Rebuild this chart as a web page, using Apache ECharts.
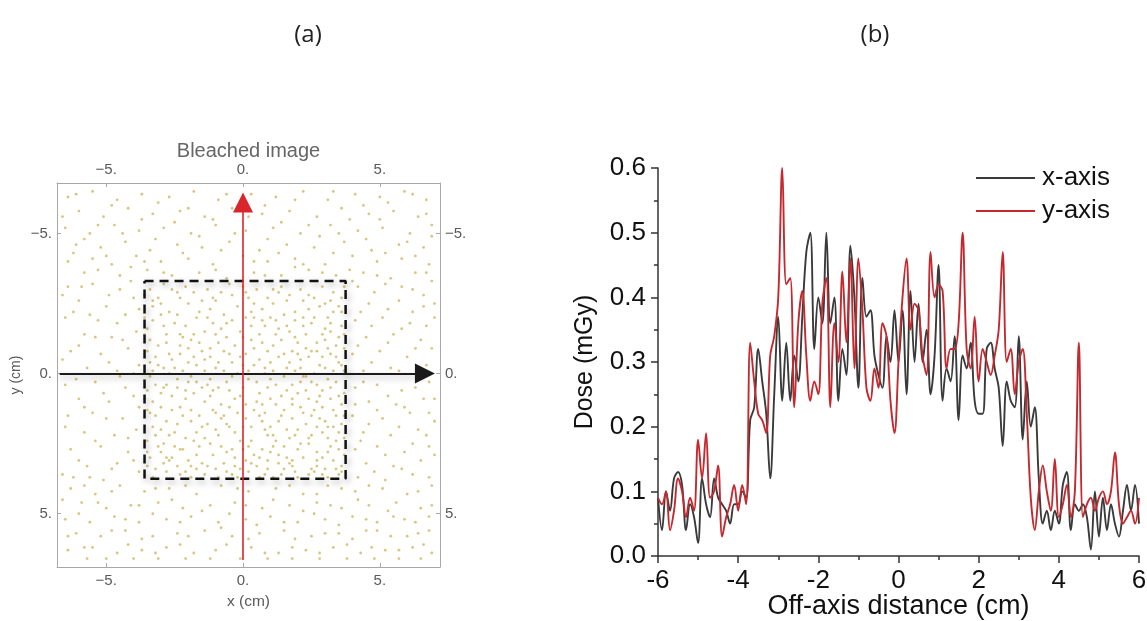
<!DOCTYPE html>
<html>
<head>
<meta charset="utf-8">
<script src="https://cdn.jsdelivr.net/npm/echarts@6/dist/echarts.min.js"></script>
<style>
html,body{margin:0;padding:0;background:#fff;}
#chart{width:1147px;height:621px;}
</style>
</head>
<body>
<div id="chart"></div>
<script>
// ---------- Panel (a): bleached image dots, positions in mm ----------
const dotsInsideMm = [
-34,-30,-21,-31,-8,-29,5,-30,17,-28,29,-31,36,-27,-30,-25,-15,-26,-2,-24,11,-25,24,-23,33,-22,-33,-19,-24,-21,-11,-18,1,-20,8,-17,19,-19,30,-16,
-28,-14,-19,-12,-6,-13,14,-12,27,-11,35,-13,-35,-8,-23,-7,-12,-9,-1,-6,9,-8,21,-5,32,-7,-29,-2,-17,-3,-7,-1,4,-3,16,-2,26,0,37,-1,
-32,4,-20,3,-9,5,2,2,12,4,23,6,34,3,-26,8,-14,10,-3,9,7,11,18,9,29,12,-35,13,-22,15,-10,14,1,16,13,17,25,15,36,18,
-30,20,-17,21,-5,19,9,22,20,20,31,23,-25,26,-12,25,0,27,15,26,27,28,-34,30,-20,31,-7,32,6,30,18,33,33,31,-28,35,-14,36,2,35,11,37,24,36,36,35,
-31,-27,-18,-29,-4,-28,9,-27,21,-30,33,-29,-27,-22,-12,-23,3,-22,15,-21,28,-24,-35,-16,-21,-17,-8,-16,6,-14,17,-15,25,-18,36,-17,
-31,-10,-16,-11,-3,-10,11,-10,23,-9,30,-12,-26,-5,-9,-4,1,-7,13,-6,28,-3,35,-4,-34,1,-22,-1,-12,2,8,0,19,-1,31,2,
-24,5,-5,6,6,7,16,6,27,4,37,7,-33,10,-18,7,-8,11,4,13,21,12,32,9,-28,17,-13,18,-2,14,10,19,23,18,34,15,
-35,24,-21,23,-9,22,3,24,17,23,29,21,-30,28,-17,29,-3,30,10,28,22,30,35,27,-24,33,-10,34,5,33,15,34,30,34,-33,37,-19,37,-2,37,20,37,
-29,-32,-13,-30,0,-31,13,-29,26,-27,37,-31,-33,-24,-20,-25,-7,-21,7,-23,19,-22,31,-20,-25,-18,-14,-15,3,-17,12,-19,23,-14,34,-10,
-34,-12,-20,-9,-9,-11,7,-11,18,-8,29,-6,-27,-7,-14,-5,-5,-7,10,-4,21,-2,33,-1,-31,-3,-19,1,-2,0,5,3,15,1,25,3,
-35,6,-28,4,-15,5,-1,8,10,9,20,7,36,11,-23,12,-11,13,6,15,15,13,27,10,-32,15,-19,17,-6,18,3,19,18,16,31,19,
-27,22,-14,23,-1,24,12,24,25,22,37,23,-35,28,-22,27,-8,26,7,27,20,27,32,26,-29,32,-15,32,1,31,13,32,27,33,-21,35,-6,35,8,36,19,35,31,37,
-36,-28,-23,-27,-10,-26,2,-27,16,-26,30,-25,-30,-21,-17,-20,-4,-19,10,-20,22,-20,36,-22,-23,-14,-10,-14,0,-13,19,-13,32,-15,
-32,-6,-18,-6,-7,-8,4,-9,15,-7,25,-8,37,-9,-25,-2,-14,-1,0,-3,11,-1,22,1,30,-2,-30,7,-17,3,-6,3,9,5,18,4,29,6,
-21,9,-12,8,1,11,12,11,24,9,35,8,-33,19,-24,18,-8,16,7,17,16,20,28,16,-29,25,-16,26,-4,27,11,26,24,25,34,24,
-26,30,-11,29,4,29,16,30,29,30,-32,34,-17,34,-3,33,9,34,26,35,36,33,
-33,-26,-26,-30,-16,-22,-5,-32,4,-25,14,-31,22,-26,35,-24,-29,-17,-22,-13,-13,-20,-1,-15,7,-19,16,-17,26,-20,32,-18,
-36,-20,-20,-4,-10,-2,3,-12,12,-14,20,-11,31,-9,37,-14,-34,-4,-27,0,-15,-8,-4,-4,6,-5,17,-4,24,-6,36,-3,
-30,12,-24,2,-11,6,0,5,10,2,21,3,28,8,33,13,-36,9,-19,13,-7,15,5,10,14,15,22,14,30,17,37,15,
-32,22,-25,21,-15,19,-3,21,8,20,19,22,27,19,35,21,-31,26,-18,24,-6,28,2,26,13,29,21,25,31,28,37,29,
-27,31,-13,33,-1,34,9,31,18,31,25,34,35,36,-35,33,-23,36,-9,37,6,37,14,36,29,36,
-24,-29,-11,-27,1,-29,11,-30,24,-28,32,-26,-36,-14,-28,-11,-18,-14,-6,-18,4,-20,13,-16,22,-17,29,-14,
-33,-1,-23,-10,-12,-6,2,-1,8,-2,20,-7,27,-8,34,-6,-29,5,-21,6,-13,4,-4,1,14,8,23,1,32,5,
-34,14,-26,13,-16,15,-5,12,8,14,18,11,26,13,-23,27,-10,20,0,19,11,22,24,23,33,19,
-28,30,-19,33,-4,36,3,32,17,32,27,31,34,34
];
const dotsOutsideMm = [
-64,-63,-55,-65,-46,-62,-37,-64,-27,-63,-18,-65,-9,-62,3,-64,12,-63,22,-65,31,-62,41,-64,50,-63,59,-65,67,-62,
-60,-58,-51,-56,-42,-59,-33,-57,-23,-58,-14,-56,-4,-59,7,-57,17,-58,27,-56,36,-59,46,-57,55,-58,64,-56,
-65,-52,-56,-50,-47,-53,-38,-51,-29,-52,-19,-50,-10,-53,1,-51,11,-52,21,-50,32,-53,42,-51,51,-52,61,-50,69,-53,
-61,-46,-52,-45,-43,-47,-34,-44,-24,-46,-15,-45,-5,-47,6,-44,16,-46,26,-45,37,-47,47,-44,57,-46,66,-45,
-64,-40,-55,-41,-48,-39,-39,-42,-30,-40,-20,-41,-11,-39,0,-42,9,-40,19,-41,30,-39,40,-42,49,-40,58,-41,68,-39,
-58,-36,-45,-35,-35,-37,-26,-35,-16,-36,-6,-34,4,-36,14,-35,24,-37,34,-35,44,-36,54,-34,63,-36,
-63,41,-54,43,-45,40,-36,42,-27,41,-17,43,-8,40,2,42,12,41,22,43,31,40,41,42,51,41,60,43,69,40,
-59,46,-50,48,-41,47,-31,46,-22,48,-12,47,-3,46,7,48,17,47,27,46,36,48,46,47,56,46,65,48,
-65,52,-56,53,-47,51,-38,53,-28,52,-19,51,-9,53,1,52,10,51,20,53,30,52,40,51,49,53,59,52,68,51,
-61,57,-52,58,-43,56,-33,58,-24,57,-14,56,-4,58,6,57,15,56,25,58,35,57,45,56,54,58,64,57,
-64,63,-55,62,-46,64,-37,63,-28,62,-18,64,-10,63,3,62,13,64,23,63,33,62,43,64,52,63,62,62,69,64,
-57,66,-40,66,-21,66,-1,66,18,66,38,66,57,66,
-64,-31,-55,-32,-45,-30,-60,-26,-50,-24,-40,-27,-65,-20,-53,-19,-43,-21,-58,-14,-48,-13,-39,-15,-63,-8,-52,-7,-42,-9,
-57,-2,-46,-1,-38,-3,-65,4,-54,3,-43,5,-60,9,-49,10,-40,8,-64,15,-55,14,-44,16,-58,21,-47,22,-39,20,-63,27,-52,26,-42,28,
-57,33,-46,32,-38,35,-62,37,-51,38,
42,-31,52,-32,62,-30,69,-33,46,-25,57,-26,66,-24,41,-19,51,-20,61,-18,70,-20,45,-13,55,-14,65,-12,40,-7,50,-8,60,-6,69,-9,
44,-1,54,-2,64,0,41,5,49,4,58,6,68,3,46,10,56,11,66,9,40,15,51,16,61,14,70,17,44,21,54,22,64,20,41,27,49,26,59,28,68,26,
45,32,55,33,65,31,42,37,52,38,62,36,
-61,-64,-48,-60,-31,-61,-20,-59,-6,-64,8,-60,19,-62,33,-65,44,-60,53,-61,62,-64,-66,-56,-53,-53,-37,-55,-25,-54,-11,-55,
2,-56,14,-54,24,-53,39,-55,50,-55,67,-57,-58,-48,-44,-50,-32,-48,-16,-49,-3,-50,9,-48,28,-49,35,-50,45,-48,60,-47,69,-49,
-62,-43,-50,-42,-36,-40,-22,-43,-8,-44,4,-40,13,-43,22,-39,33,-43,52,-43,63,-42,-53,-37,-41,-38,-29,-36,-10,-37,8,-35,
19,-38,29,-36,39,-37,49,-35,67,-36,
-58,40,-48,42,-32,41,-21,40,-2,41,17,40,27,43,36,41,46,40,64,42,-66,45,-53,46,-38,47,-26,45,-15,49,1,47,11,45,22,49,
32,47,42,45,53,49,69,47,-60,50,-43,52,-33,50,-23,53,-5,50,5,54,15,53,26,50,35,54,45,52,55,51,63,53,-64,58,-48,56,
-37,59,-20,58,-8,55,2,59,19,59,30,57,40,59,49,56,60,58,68,56,-58,62,-42,61,-32,64,-23,61,-6,61,8,64,18,62,28,64,
38,61,47,62,57,63,66,61,-50,66,-31,66,-12,66,9,66,28,66,48,66,65,66,
-66,-28,-59,-31,-49,-28,-41,-33,-62,-22,-56,-21,-46,-18,-38,-23,-60,-10,-54,-13,-44,-12,-66,-5,-49,-4,-40,0,-61,2,
-51,7,-45,1,-38,12,-58,12,-50,16,-65,19,-42,23,-54,24,-60,31,-48,34,-40,31,-66,36,-56,37,
40,-33,48,-29,58,-31,66,-28,43,-22,53,-23,62,-22,70,-25,47,-17,58,-16,67,-17,42,-10,53,-11,63,-9,47,-4,57,-1,67,-3,
44,3,53,8,63,5,70,9,41,11,49,13,59,12,68,14,46,18,57,19,67,22,43,24,52,29,62,25,70,29,48,35,58,34,68,37
];
// dashed field outline (cm)
const fieldBoxX = [-3.6, 3.75, 3.75, -3.6, -3.6];
const fieldBoxY = [-3.3, -3.3, 3.75, 3.75, -3.3];
// profile arrows (cm): start and end
const xProfileArrow = [[-6.7, 0], [6.65, 0]];
const yProfileArrow = [[0, 6.65], [0, -6.1]];
const panelATicks = [-5, 0, 5];

// ---------- Panel (b): dose profiles ----------
const offAxis = Array.from({length: 121}, (_, i) => +(-6 + i * 0.1).toFixed(1));
const doseX = [
0.09,0.04,0.10,0.07,0.12,0.13,0.11,0.04,0.08,0.06,
0.02,0.12,0.08,0.06,0.12,0.09,0.08,0.07,0.05,0.08,
0.08,0.10,0.09,0.21,0.23,0.32,0.27,0.22,0.12,0.25,
0.37,0.24,0.33,0.24,0.31,0.27,0.37,0.47,0.50,0.32,
0.40,0.36,0.50,0.36,0.40,0.24,0.32,0.28,0.48,0.40,
0.26,0.43,0.37,0.38,0.31,0.28,0.26,0.34,0.30,0.38,
0.30,0.38,0.25,0.41,0.30,0.39,0.30,0.35,0.25,0.31,
0.45,0.24,0.29,0.27,0.34,0.21,0.31,0.29,0.33,0.24,
0.22,0.22,0.32,0.33,0.29,0.26,0.17,0.27,0.24,0.23,
0.34,0.18,0.27,0.20,0.23,0.12,0.05,0.07,0.04,0.07,
0.05,0.11,0.13,0.04,0.08,0.07,0.08,0.06,0.01,0.10,
0.03,0.09,0.04,0.08,0.05,0.03,0.07,0.11,0.07,0.11,
0.05
];
const doseY = [
0.09,0.08,0.10,0.04,0.07,0.12,0.10,0.06,0.09,0.07,
0.18,0.12,0.19,0.09,0.10,0.14,0.03,0.06,0.08,0.11,
0.07,0.11,0.08,0.33,0.27,0.22,0.21,0.19,0.31,0.34,
0.40,0.60,0.42,0.43,0.23,0.36,0.41,0.31,0.24,0.27,
0.25,0.39,0.43,0.23,0.36,0.30,0.44,0.33,0.46,0.29,
0.46,0.38,0.26,0.24,0.29,0.26,0.36,0.34,0.24,0.19,
0.30,0.40,0.46,0.35,0.39,0.38,0.31,0.28,0.47,0.40,
0.42,0.41,0.29,0.32,0.32,0.36,0.50,0.32,0.29,0.37,
0.27,0.32,0.30,0.28,0.31,0.35,0.47,0.30,0.32,0.25,
0.30,0.32,0.22,0.09,0.04,0.10,0.14,0.10,0.07,0.15,
0.06,0.08,0.11,0.06,0.10,0.33,0.06,0.08,0.09,0.07,
0.09,0.10,0.08,0.10,0.16,0.08,0.05,0.06,0.07,0.05,
0.09
];

function mmPairs(flat) {
  const out = [];
  for (let i = 0; i < flat.length; i += 2) out.push([flat[i] / 10, flat[i + 1] / 10]);
  return out;
}
const mmaLabel = v => (v < 0 ? '\u2212' : '') + Math.abs(v) + '.';
const grayTxt = '#5a5a5a';
const frame = '#a8a8a8';

const chart = echarts.init(document.getElementById('chart'), null, {renderer: 'canvas'});

const aX = (pos, extra) => Object.assign({
  type: 'value', gridIndex: 0, position: pos, min: -6.8, max: 7.2,
  axisLine: {show: true, onZero: false, lineStyle: {color: frame, width: 1}},
  axisTick: {show: true, inside: true, length: 4, customValues: panelATicks, lineStyle: {color: frame}},
  axisLabel: {customValues: panelATicks, formatter: mmaLabel, color: grayTxt, fontSize: 15, fontFamily: 'Liberation Sans', margin: 6},
  splitLine: {show: false}
}, extra);
const aY = (pos, extra) => Object.assign({
  type: 'value', gridIndex: 0, position: pos, min: -6.8, max: 6.9, inverse: true,
  axisLine: {show: true, onZero: false, lineStyle: {color: frame, width: 1}},
  axisTick: {show: true, inside: true, length: 4, customValues: panelATicks, lineStyle: {color: frame}},
  axisLabel: {customValues: panelATicks, formatter: mmaLabel, color: grayTxt, fontSize: 15, fontFamily: 'Liberation Sans', margin: 5},
  splitLine: {show: false}
}, extra);

const option = {
  animation: false,
  backgroundColor: '#ffffff',
  title: [
    {text: '(a)', left: 303, top: 30, textAlign: 'center', textVerticalAlign: 'middle',
     textStyle: {fontSize: 24, fontWeight: 'normal', color: '#222', fontFamily: 'Open Sans'}},
    {text: '(b)', left: 870, top: 30, textAlign: 'center', textVerticalAlign: 'middle',
     textStyle: {fontSize: 24, fontWeight: 'normal', color: '#222', fontFamily: 'Open Sans'}}
  ],
  legend: {
    data: ['x-axis', 'y-axis'], orient: 'vertical', left: 971, top: 160,
    icon: 'rect', itemWidth: 59, itemHeight: 2, itemGap: 7,
    textStyle: {fontSize: 26, color: '#111', fontFamily: 'Liberation Sans', padding: [0, 0, 0, 2]}
  },
  grid: [
    {left: 57, top: 183, width: 383, height: 384, outerBoundsMode: 'none', containLabel: false},
    {left: 658, top: 168, width: 481, height: 388, outerBoundsMode: 'none', containLabel: false}
  ],
  xAxis: [
    aX('bottom', {name: 'x (cm)', nameLocation: 'middle', nameGap: 27, nameMoveOverlap: false,
      nameTextStyle: {color: grayTxt, fontSize: 15.5, fontFamily: 'Liberation Sans'}}),
    aX('top', {name: 'Bleached image', nameLocation: 'middle', nameGap: 22, nameMoveOverlap: false,
      nameTextStyle: {color: '#666', fontSize: 20, fontFamily: 'Liberation Sans'}}),
    {
      type: 'value', gridIndex: 1, min: -6, max: 6, interval: 2,
      name: 'Off-axis distance (cm)', nameLocation: 'middle', nameGap: 37, nameMoveOverlap: false,
      nameTextStyle: {color: '#111', fontSize: 27, fontFamily: 'Liberation Sans'},
      axisLine: {show: true, onZero: false, lineStyle: {color: '#333', width: 1.5}},
      axisTick: {show: true, length: 7, lineStyle: {color: '#333', width: 1.5}},
      minorTick: {show: true, splitNumber: 2, length: 4, lineStyle: {color: '#333', width: 1.5}},
      axisLabel: {color: '#111', fontSize: 26, fontFamily: 'Liberation Sans', margin: 12},
      splitLine: {show: false}
    }
  ],
  yAxis: [
    aY('left', {name: 'y (cm)', nameLocation: 'middle', nameGap: 34, nameRotate: 90,
      nameTextStyle: {color: grayTxt, fontSize: 14, fontFamily: 'Liberation Sans'}}),
    aY('right', {}),
    {
      type: 'value', gridIndex: 1, min: 0, max: 0.6, interval: 0.1,
      name: 'Dose (mGy)', nameLocation: 'middle', nameGap: 60, nameRotate: 90,
      nameTextStyle: {color: '#111', fontSize: 25, fontFamily: 'Liberation Sans'},
      axisLine: {show: true, onZero: false, lineStyle: {color: '#333', width: 1.5}},
      axisTick: {show: true, length: 7, lineStyle: {color: '#333', width: 1.5}},
      minorTick: {show: true, splitNumber: 2, length: 4, lineStyle: {color: '#333', width: 1.5}},
      axisLabel: {color: '#111', fontSize: 26, fontFamily: 'Liberation Sans', margin: 12,
        formatter: v => v.toFixed(1)},
      splitLine: {show: false}
    }
  ],
  series: [
    {
      type: 'scatter', xAxisIndex: 0, yAxisIndex: 0, silent: true,
      data: mmPairs(dotsOutsideMm).concat(mmPairs(dotsInsideMm)),
      symbolSize: 2.8, itemStyle: {color: '#d3bf72', opacity: 0.9}
    },
    {
      type: 'line', xAxisIndex: 0, yAxisIndex: 0, silent: true,
      data: fieldBoxX.map((x, i) => [x, fieldBoxY[i]]),
      symbol: 'none', z: 4,
      lineStyle: {color: '#111', width: 2.5, type: [9, 6],
        shadowColor: 'rgba(0,0,0,0.35)', shadowBlur: 6, shadowOffsetX: 2, shadowOffsetY: 3}
    },
    {
      type: 'lines', coordinateSystem: 'cartesian2d', xAxisIndex: 0, yAxisIndex: 0, silent: true, z: 5,
      symbol: ['none', 'triangle'], symbolSize: [20, 20],
      data: [{coords: xProfileArrow}],
      lineStyle: {color: '#1a1a1a', width: 2, opacity: 1,
        shadowColor: 'rgba(0,0,0,0.3)', shadowBlur: 6, shadowOffsetY: 3}
    },
    {
      type: 'lines', coordinateSystem: 'cartesian2d', xAxisIndex: 0, yAxisIndex: 0, silent: true, z: 6,
      symbol: ['none', 'triangle'], symbolSize: [18, 20],
      data: [{coords: yProfileArrow}],
      lineStyle: {color: '#d9262b', width: 1.6, opacity: 1}
    },
    {
      name: 'x-axis', type: 'line', xAxisIndex: 2, yAxisIndex: 2,
      data: offAxis.map((x, i) => [x, doseX[i]]),
      symbol: 'none', smooth: 0.35,
      lineStyle: {color: '#3a3a3a', width: 1.9}, itemStyle: {color: '#3a3a3a'}
    },
    {
      name: 'y-axis', type: 'line', xAxisIndex: 2, yAxisIndex: 2,
      data: offAxis.map((x, i) => [x, doseY[i]]),
      symbol: 'none', smooth: 0.35,
      lineStyle: {color: '#c4292f', width: 1.9}, itemStyle: {color: '#c4292f'}
    }
  ]
};
chart.setOption(option);
</script>
</body>
</html>
